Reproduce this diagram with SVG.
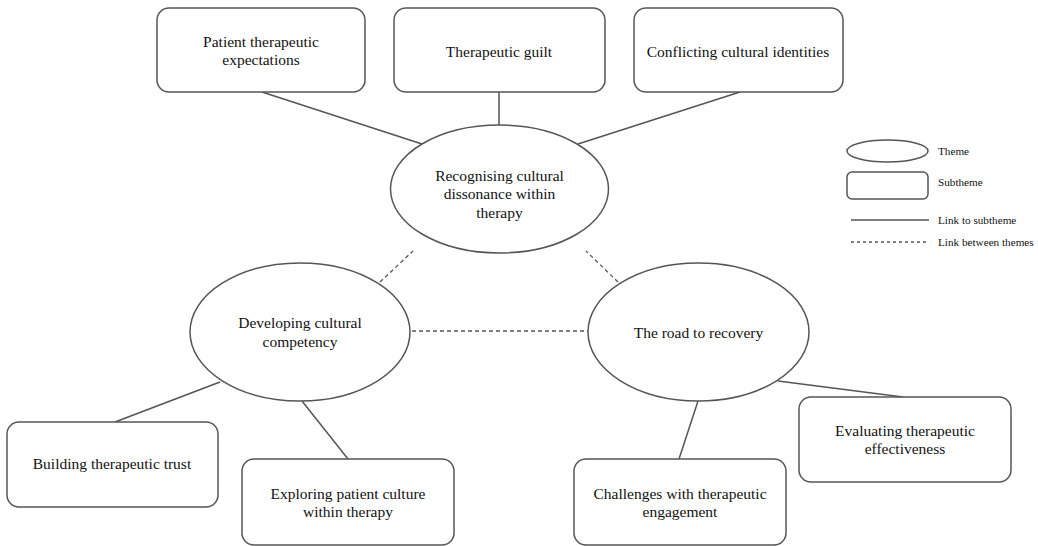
<svg xmlns="http://www.w3.org/2000/svg" width="1038" height="546" viewBox="0 0 1038 546">
<style>
.box{fill:#fff;stroke:#555;stroke-width:1.5}
.th{fill:#fff;stroke:#555;stroke-width:1.5}
.t{font-family:"Liberation Serif","Times New Roman",serif;font-size:15.5px;fill:#111;text-anchor:middle}
.lg{font-family:"Liberation Serif","Times New Roman",serif;font-size:11.2px;fill:#111}
.sol{stroke:#555;stroke-width:1.5;fill:none}
.dash{stroke:#555;stroke-width:1.3;fill:none;stroke-dasharray:4,3}
</style>
<rect width="1038" height="546" fill="#fff"/>
<g id="connectors">
<line class="sol" x1="262" y1="92" x2="422" y2="144"/>
<line class="sol" x1="499" y1="92" x2="499" y2="125"/>
<line class="sol" x1="740" y1="92" x2="578" y2="144"/>
<line class="dash" x1="380" y1="282" x2="413" y2="251"/>
<line class="dash" x1="618" y1="282" x2="586" y2="251"/>
<line class="dash" x1="412" y1="331" x2="588" y2="331"/>
<line class="sol" x1="220" y1="382" x2="115" y2="422"/>
<line class="sol" x1="302" y1="401" x2="348" y2="459"/>
<line class="sol" x1="698" y1="401" x2="679" y2="459"/>
<line class="sol" x1="778" y1="381" x2="903" y2="397"/>
</g>
<g id="box-patient">
<rect class="box" x="157" y="8" width="208" height="84" rx="12"/>
<text class="t" x="261" y="47">Patient therapeutic</text>
<text class="t" x="261" y="65">expectations</text>
</g>
<g id="box-guilt">
<rect class="box" x="394" y="8" width="211" height="84" rx="12"/>
<text class="t" x="499" y="57">Therapeutic guilt</text>
</g>
<g id="box-conflicting">
<rect class="box" x="634" y="8" width="209" height="84" rx="12"/>
<text class="t" x="738" y="57">Conflicting cultural identities</text>
</g>
<g id="theme-recognising">
<ellipse class="th" cx="499.5" cy="189" rx="109" ry="64"/>
<text class="t" x="499.5" y="181">Recognising cultural</text>
<text class="t" x="499.5" y="199">dissonance within</text>
<text class="t" x="499.5" y="218">therapy</text>
</g>
<g id="theme-developing">
<ellipse class="th" cx="300" cy="332" rx="110" ry="69"/>
<text class="t" x="300" y="328">Developing cultural</text>
<text class="t" x="300" y="347">competency</text>
</g>
<g id="theme-road">
<ellipse class="th" cx="698.5" cy="332" rx="110.5" ry="69"/>
<text class="t" x="698.5" y="338">The road to recovery</text>
</g>
<g id="box-building">
<rect class="box" x="7" y="422" width="211" height="85" rx="12"/>
<text class="t" x="112" y="469">Building therapeutic trust</text>
</g>
<g id="box-exploring">
<rect class="box" x="242" y="459" width="212" height="86" rx="12"/>
<text class="t" x="348" y="499">Exploring patient culture</text>
<text class="t" x="348" y="517">within therapy</text>
</g>
<g id="box-challenges">
<rect class="box" x="574" y="459" width="212" height="86" rx="12"/>
<text class="t" x="680" y="499">Challenges with therapeutic</text>
<text class="t" x="680" y="517">engagement</text>
</g>
<g id="box-evaluating">
<rect class="box" x="799" y="397" width="212" height="85" rx="12"/>
<text class="t" x="905" y="436">Evaluating therapeutic</text>
<text class="t" x="905" y="454">effectiveness</text>
</g>
<g id="legend">
<ellipse class="th" cx="887.5" cy="151" rx="40.5" ry="11"/>
<text class="lg" x="938" y="155">Theme</text>
<rect class="box" x="847" y="172" width="81" height="27" rx="5"/>
<text class="lg" x="938" y="186">Subtheme</text>
<line class="sol" x1="851" y1="220" x2="929" y2="220"/>
<text class="lg" x="938" y="224">Link to subtheme</text>
<line class="dash" x1="851" y1="242" x2="929" y2="242" style="stroke-dasharray:3,3"/>
<text class="lg" x="938" y="246">Link between themes</text>
</g>
</svg>
